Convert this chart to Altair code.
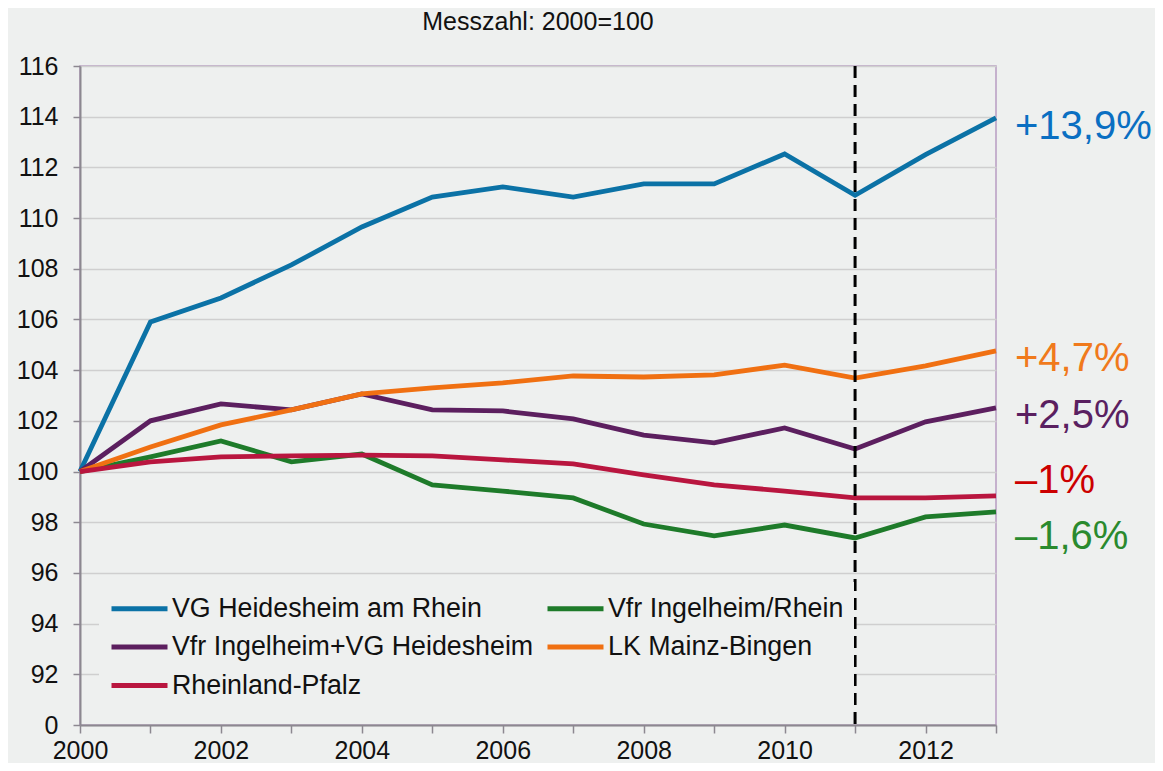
import altair as alt
import pandas as pd

years = list(range(2000, 2014))

series_names = [
    "VG Heidesheim am Rhein",
    "Vfr Ingelheim/Rhein",
    "Vfr Ingelheim+VG Heidesheim",
    "LK Mainz-Bingen",
    "Rheinland-Pfalz",
]
series_colors = ["#0b72a6", "#1e7b2a", "#5c1f5f", "#f07012", "#b9163f"]

vg_heidesheim = [100.0, 105.9, 106.85, 108.15, 109.65, 110.83, 111.23, 110.83, 111.35, 111.35, 112.53, 110.9, 112.5, 113.95]
vfr_ingelheim = [100.0, 100.58, 101.21, 100.38, 100.69, 99.47, 99.23, 98.96, 97.93, 97.46, 97.89, 97.38, 98.21, 98.41]
vfr_plus_vg = [100.0, 102.0, 102.67, 102.43, 103.06, 102.43, 102.39, 102.08, 101.44, 101.13, 101.72, 100.89, 101.96, 102.51]
lk_mainz_bingen = [100.0, 100.97, 101.84, 102.43, 103.06, 103.3, 103.5, 103.77, 103.73, 103.81, 104.2, 103.69, 104.17, 104.76]
rheinland_pfalz = [100.0, 100.38, 100.58, 100.62, 100.65, 100.62, 100.46, 100.3, 99.87, 99.47, 99.23, 98.96, 98.96, 99.04]

all_series = [vg_heidesheim, vfr_ingelheim, vfr_plus_vg, lk_mainz_bingen, rheinland_pfalz]

end_labels = ["+13,9%", "–1,6%", "+2,5%", "+4,7%", "–1%"]
end_label_y = [113.12, 96.95, 101.72, 103.97, 99.16]
end_label_colors = ["#0a6fc2", "#2a8a2e", "#5a2060", "#f07a1c", "#cc0000"]

marker_year = [2011]

BG = "#eef0ef"
FONT = "Liberation Sans"

rows = []
for name, vals in zip(series_names, all_series):
    for y, v in zip(years, vals):
        rows.append({"Jahr": y, "Wert": v, "Reihe": name})
df = pd.DataFrame(rows)

lab_df = pd.DataFrame({
    "Jahr": [years[-1]] * len(end_labels),
    "Wert": end_label_y,
    "Text": end_labels,
    "Farbe": end_label_colors,
})
rule_df = pd.DataFrame({"Jahr": marker_year})

x_scale = alt.Scale(domain=[2000, 2013], nice=False, zero=False)
y_scale = alt.Scale(domain=[90, 116], nice=False, zero=False)

lines = alt.Chart(df).mark_line(strokeWidth=4.8, strokeCap="butt", strokeJoin="miter").encode(
    x=alt.X("Jahr:Q", scale=x_scale, title=None,
            axis=alt.Axis(values=years, format="d",
                          labelExpr="datum.value % 2 == 0 ? datum.label : ''",
                          grid=False, domainColor="#8c8890", domainWidth=2,
                          tickColor="#8c8890", tickSize=8, tickWidth=1.5,
                          labelFontSize=25, labelFont=FONT, labelColor="#111111",
                          labelPadding=5, labelFlush=False, labelOverlap=False)),
    y=alt.Y("Wert:Q", scale=y_scale, title=None,
            axis=alt.Axis(values=list(range(90, 117, 2)),
                          labelExpr="datum.value == 90 ? '0' : datum.label",
                          grid=True, gridColor="#cfcfcf", gridWidth=1.5,
                          domainColor="#8c8890", domainWidth=2,
                          tickColor="#8c8890", tickSize=7, tickWidth=1.5,
                          labelFontSize=25, labelFont=FONT, labelColor="#111111",
                          labelPadding=15)),
    color=alt.Color("Reihe:N",
                    scale=alt.Scale(domain=series_names, range=series_colors),
                    sort=series_names,
                    legend=alt.Legend(title=None, orient="none", legendX=19, legendY=516,
                                      columns=2, direction="horizontal",
                                      symbolType="M-1,0H3", symbolSize=784, symbolStrokeWidth=5,
                                      labelFontSize=26.8, labelFont=FONT, labelColor="#111111",
                                      labelLimit=500, columnPadding=3, rowPadding=7.5,
                                      fillColor=BG, padding=10, labelOffset=30)),
)

rule = alt.Chart(rule_df).mark_rule(color="black", strokeWidth=3, strokeDash=[12, 7]).encode(
    x=alt.X("Jahr:Q", scale=x_scale),
)

labels = alt.Chart(lab_df).mark_text(align="left", baseline="alphabetic", dx=19,
                                     fontSize=40, font=FONT).encode(
    x=alt.X("Jahr:Q", scale=x_scale),
    y=alt.Y("Wert:Q", scale=y_scale),
    text="Text:N",
    color=alt.Color("Farbe:N", scale=None),
)

chart = alt.layer(lines, rule, labels).properties(
    width=916,
    height=659,
    background=BG,
    padding={"left": 72, "top": 58, "right": 159, "bottom": 38},
    autosize=alt.AutoSizeParams(type="none"),
    title=alt.TitleParams("Messzahl: 2000=100", fontSize=25, font=FONT, fontWeight="normal",
                          color="#111111", anchor="middle", offset=19),
).configure_view(stroke="#b89cc2", strokeWidth=1.5, fill=BG)

chart.save("out.html", embed_options={"renderer": "svg", "actions": False})
